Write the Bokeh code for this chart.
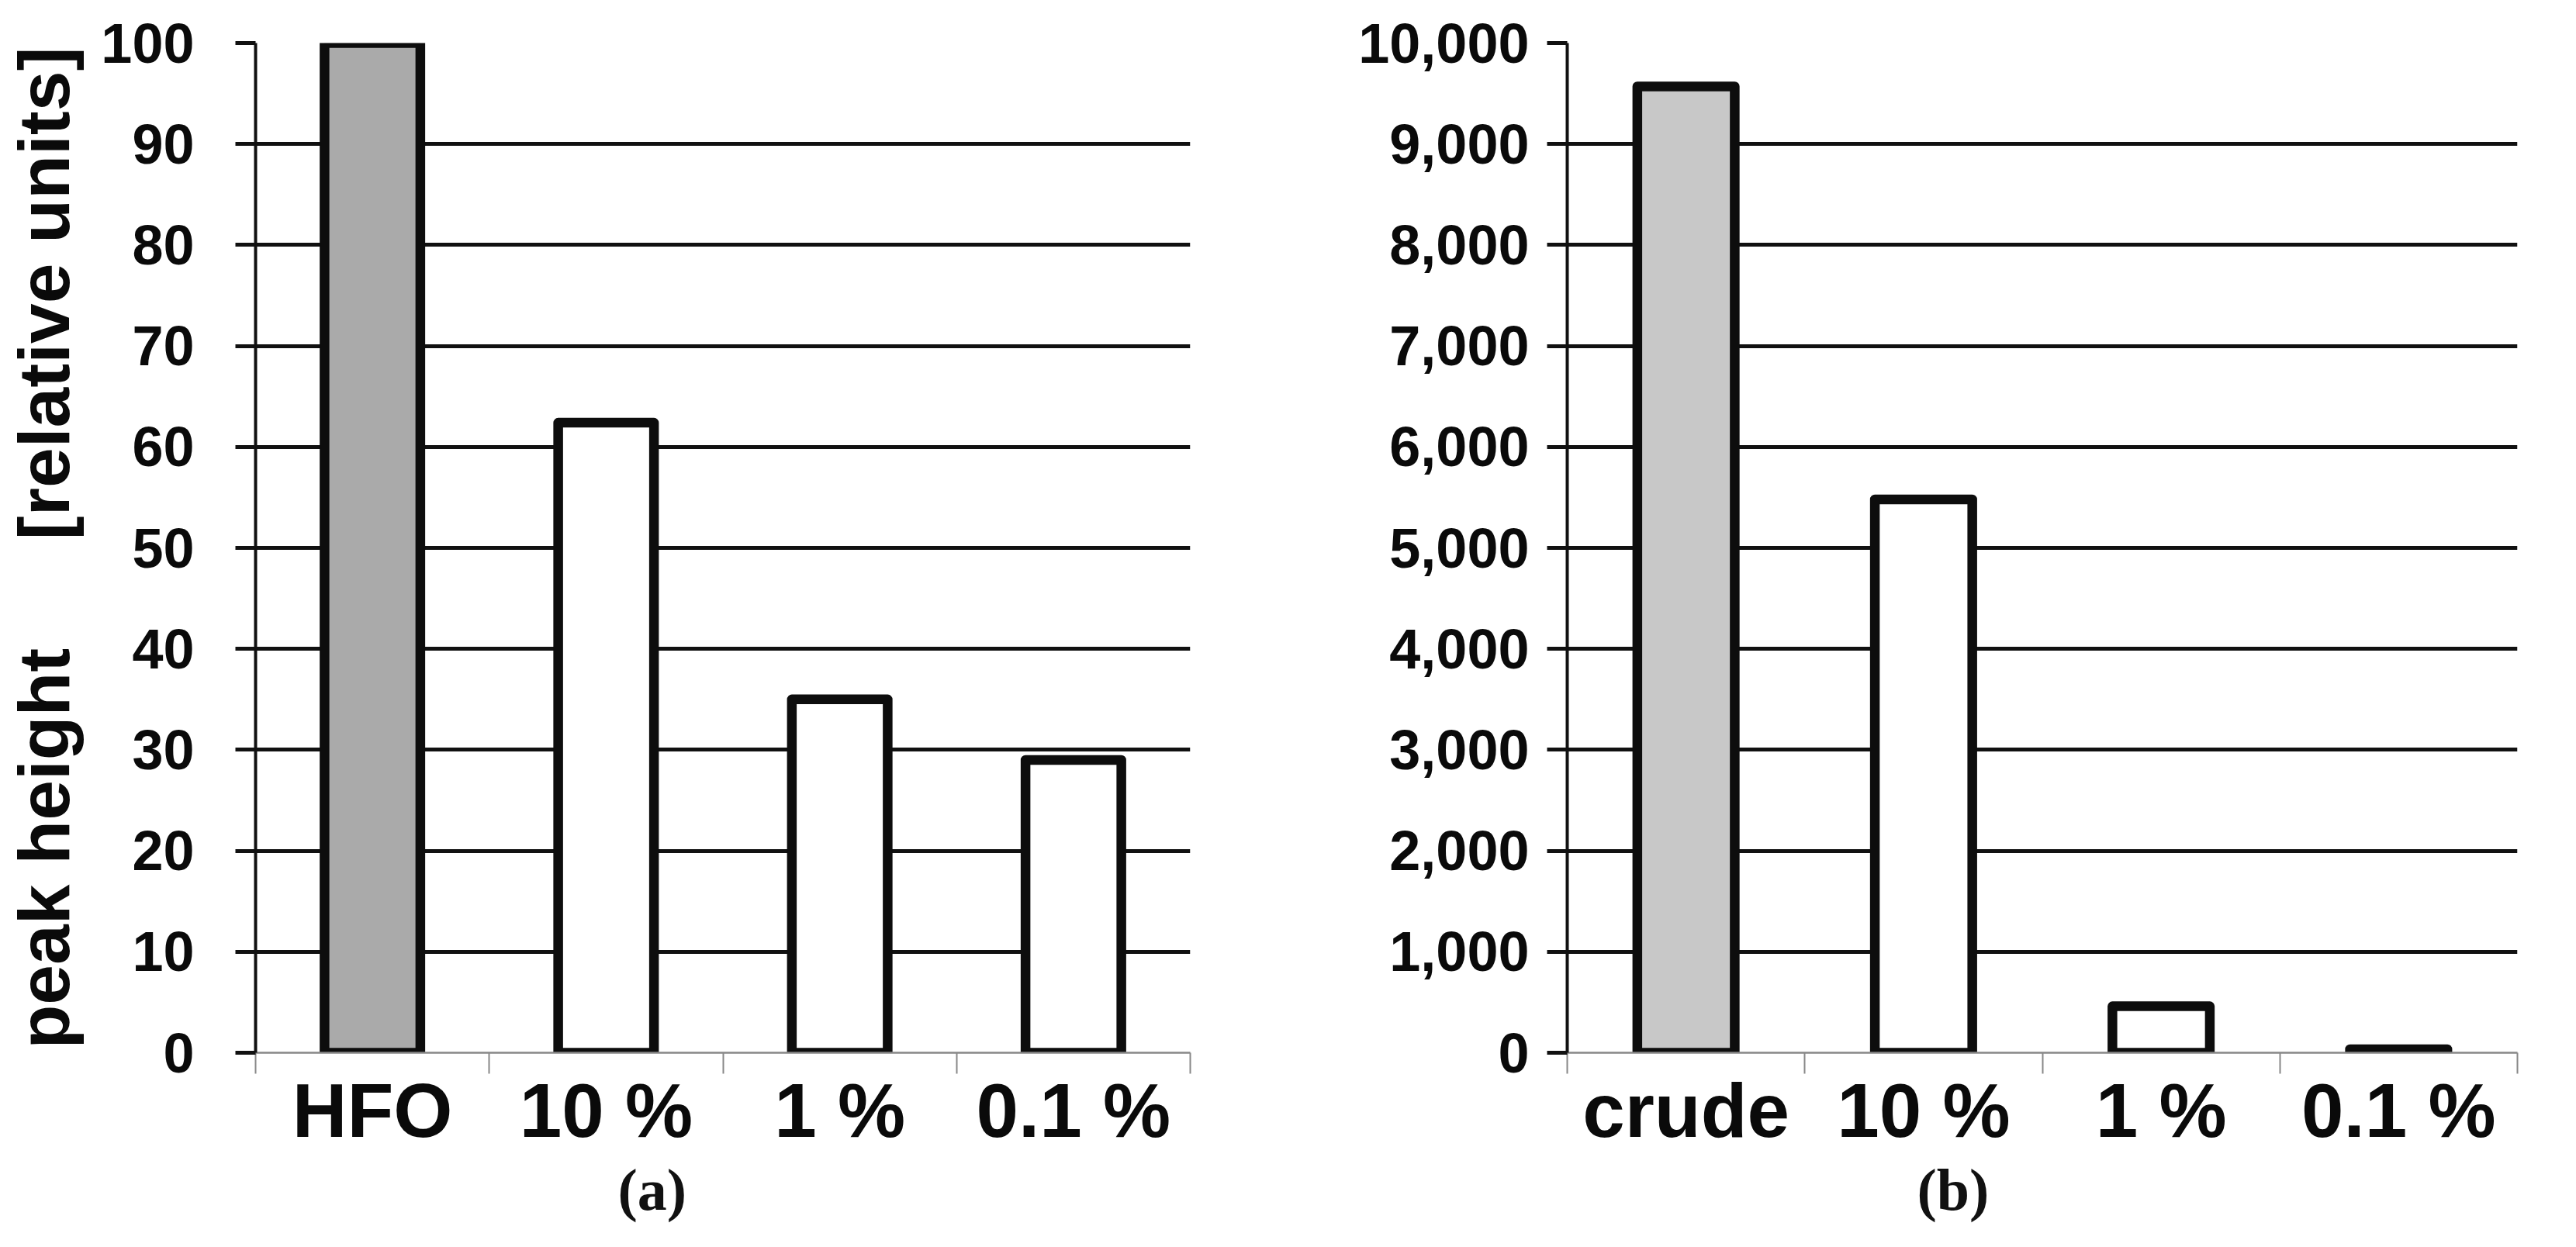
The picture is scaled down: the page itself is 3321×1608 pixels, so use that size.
from bokeh.plotting import figure
from bokeh.models import (Range1d, LinearAxis, FixedTicker, NumeralTickFormatter,
                          ColumnDataSource, Title)
from bokeh.layouts import row
from bokeh.embed import file_html
from bokeh.resources import INLINE

# ---- data ----
cats_a = ["HFO", "10 %", "1 %", "0.1 %"]
vals_a = [100, 62.4, 35.0, 29.0]
yticks_a = [0, 10, 20, 30, 40, 50, 60, 70, 80, 90, 100]

cats_b = ["crude", "10 %", "1 %", "0.1 %"]
vals_b = [9570, 5480, 460, 35]
yticks_b = [0, 1000, 2000, 3000, 4000, 5000, 6000, 7000, 8000, 9000, 10000]

# ---- styles ----
fills_a = ["#aaaaaa", "white", "white", "white"]
fills_b = ["#c8c8c8", "white", "white", "white"]

SANS = "Liberation Sans"
SERIF = "Liberation Serif"


def panel(cats, vals, fills, yticks, caption, width, mbl, mbr, std, cap_offset,
          ylabel=None, fmt=None):
    n = len(cats)
    centers = [i + 0.5 for i in range(n)]
    p = figure(x_range=Range1d(0, n), y_range=Range1d(yticks[0], yticks[-1]),
               width=width, height=1592, output_backend="svg",
               toolbar_location=None,
               min_border_left=mbl, min_border_right=mbr,
               min_border_top=55, min_border_bottom=235)
    p.outline_line_color = None
    p.background_fill_color = "white"
    p.border_fill_color = "white"
    p.xgrid.visible = False
    p.ygrid.ticker = FixedTicker(ticks=yticks[1:])
    p.ygrid.grid_line_color = "#111111"
    p.ygrid.grid_line_width = 5

    # y axis
    ya = p.yaxis[0]
    ya.ticker = FixedTicker(ticks=yticks)
    if fmt is not None:
        ya.formatter = fmt
    ya.axis_line_color = "#111111"
    ya.axis_line_width = 4
    ya.major_tick_line_color = "#111111"
    ya.major_tick_line_width = 5
    ya.major_tick_out = 26
    ya.major_tick_in = 0
    ya.minor_tick_line_color = None
    ya.major_label_standoff = std
    ya.major_label_text_font = SANS
    ya.major_label_text_font_style = "bold"
    ya.major_label_text_font_size = "72px"
    ya.major_label_text_color = "#0a0a0a"
    if ylabel:
        ya.axis_label = ylabel
        ya.axis_label_text_font = SANS
        ya.axis_label_text_font_style = "bold"
        ya.axis_label_text_font_size = "93px"
        ya.axis_label_text_color = "#0a0a0a"
        ya.axis_label_standoff = 18

    # x axes: boundary ticks (near frame) + category labels
    tick_axis = p.xaxis[0]
    tick_axis.ticker = FixedTicker(ticks=list(range(n + 1)))
    tick_axis.axis_line_color = "#888888"
    tick_axis.axis_line_width = 2.5
    tick_axis.major_tick_line_color = "#888888"
    tick_axis.major_tick_line_width = 2
    tick_axis.major_tick_out = 27
    tick_axis.major_tick_in = 0
    tick_axis.minor_tick_line_color = None
    tick_axis.major_label_text_font_size = "1px"
    tick_axis.major_label_text_color = None
    tick_axis.major_label_standoff = 0

    cat_axis = LinearAxis(ticker=FixedTicker(ticks=centers),
                          major_label_overrides={c: name for c, name in zip(centers, cats)})
    cat_axis.axis_line_color = None
    cat_axis.major_tick_line_color = None
    cat_axis.minor_tick_line_color = None
    cat_axis.major_tick_out = 0
    cat_axis.major_tick_in = 0
    cat_axis.major_label_standoff = -8
    cat_axis.major_label_text_font = SANS
    cat_axis.major_label_text_font_style = "bold"
    cat_axis.major_label_text_font_size = "98px"
    cat_axis.major_label_text_color = "#0a0a0a"
    p.add_layout(cat_axis, "below")

    src = ColumnDataSource(dict(x=centers, top=vals, fill=fills))
    p.vbar(x="x", top="top", width=0.41, source=src, fill_color="fill",
           line_color="#0d0d0d", line_width=12.5, line_join="round")

    p.add_layout(Title(text=caption, align="left", offset=cap_offset,
                       text_font=SERIF, text_font_style="bold",
                       text_font_size="76px", text_color="#111111",
                       standoff=0), "below")
    return p


pa = panel(cats_a, vals_a, fills_a, yticks_a, "(a)", 1692, 329, 158, 53, 467,
           ylabel="peak height\u2003\u2002[relative units]")
pb = panel(cats_b, vals_b, fills_b, yticks_b, "(b)", 1613, 328, 60, 23, 451,
           fmt=NumeralTickFormatter(format="0,0"))

layout = row(pa, pb)
open("out.html", "w").write(file_html(layout, INLINE))
